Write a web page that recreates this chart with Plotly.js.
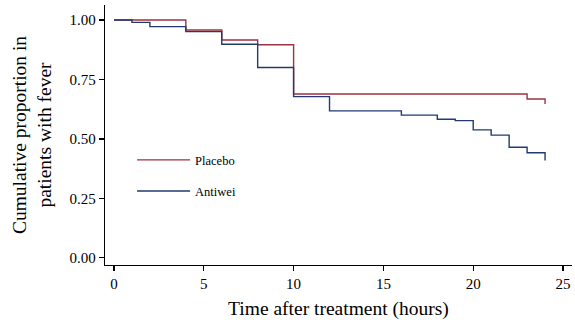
<!DOCTYPE html>
<html>
<head>
<meta charset="utf-8">
<script src="https://cdn.plot.ly/plotly-3.0.1.min.js"></script>
<style>html,body{margin:0;padding:0;background:#fff;}#chart{width:575px;height:320px;}</style>
</head>
<body>
<div id="chart"></div>
<script>
const placeboTime = [0, 4, 6, 8, 10, 23, 24];
const placeboProp = [1.00, 0.958, 0.916, 0.896, 0.689, 0.668, 0.647];
const antiweiTime = [0, 1, 2, 4, 6, 8, 10, 12, 16, 18, 19, 20, 21, 22, 23, 24];
const antiweiProp = [1.00, 0.99, 0.972, 0.951, 0.898, 0.80, 0.678, 0.618, 0.60, 0.583, 0.577, 0.538, 0.516, 0.465, 0.442, 0.409];
const xTicks = [0, 5, 10, 15, 20, 25];
const yTicks = [0, 0.25, 0.5, 0.75, 1];
const yTickText = ["0.00", "0.25", "0.50", "0.75", "1.00"];

const font = {family: "Liberation Serif, Times New Roman, serif", color: "#000"};

const traces = [
  {x: placeboTime, y: placeboProp, name: "Placebo", type: "scatter", mode: "lines",
   line: {shape: "hv", color: "#9b3341", width: 1.4}, legend: "legend"},
  {x: antiweiTime, y: antiweiProp, name: "Antiwei", type: "scatter", mode: "lines",
   line: {shape: "hv", color: "#213a72", width: 1.4}, legend: "legend2"}
];

const layout = {
  width: 575, height: 320,
  margin: {l: 105, r: 3, t: 5, b: 55},
  paper_bgcolor: "#fff", plot_bgcolor: "#fff",
  font: Object.assign({size: 13}, font),
  showlegend: true,
  legend: {x: 0.058, y: 0.403, xanchor: "left", yanchor: "middle", bgcolor: "rgba(0,0,0,0)",
           itemwidth: 53, font: Object.assign({size: 12.5}, font)},
  legend2: {x: 0.058, y: 0.283, xanchor: "left", yanchor: "middle", bgcolor: "rgba(0,0,0,0)",
           itemwidth: 53, font: Object.assign({size: 12.5}, font)},
  xaxis: {
    range: [-0.5, 25.5], tickvals: xTicks, ticks: "outside", ticklen: 5, tickwidth: 1.2,
    tickcolor: "#000", showline: true, linecolor: "#000", linewidth: 1.2,
    showgrid: false, zeroline: false, tickfont: Object.assign({size: 15}, font),
    title: {text: "Time after treatment (hours)", font: Object.assign({size: 19.5}, font), standoff: 11}
  },
  yaxis: {
    range: [-0.03, 1.063], tickvals: yTicks, ticktext: yTickText, ticks: "outside", ticklen: 5,
    tickwidth: 1.2, tickcolor: "#000", showline: true, linecolor: "#000", linewidth: 1.2,
    showgrid: false, zeroline: false, tickfont: Object.assign({size: 15}, font),
    title: {text: "Cumulative proportion in<br>patients with fever", font: Object.assign({size: 19.5}, font), standoff: 12}
  }
};

Plotly.newPlot("chart", traces, layout, {displayModeBar: false, staticPlot: true});
</script>
</body>
</html>
